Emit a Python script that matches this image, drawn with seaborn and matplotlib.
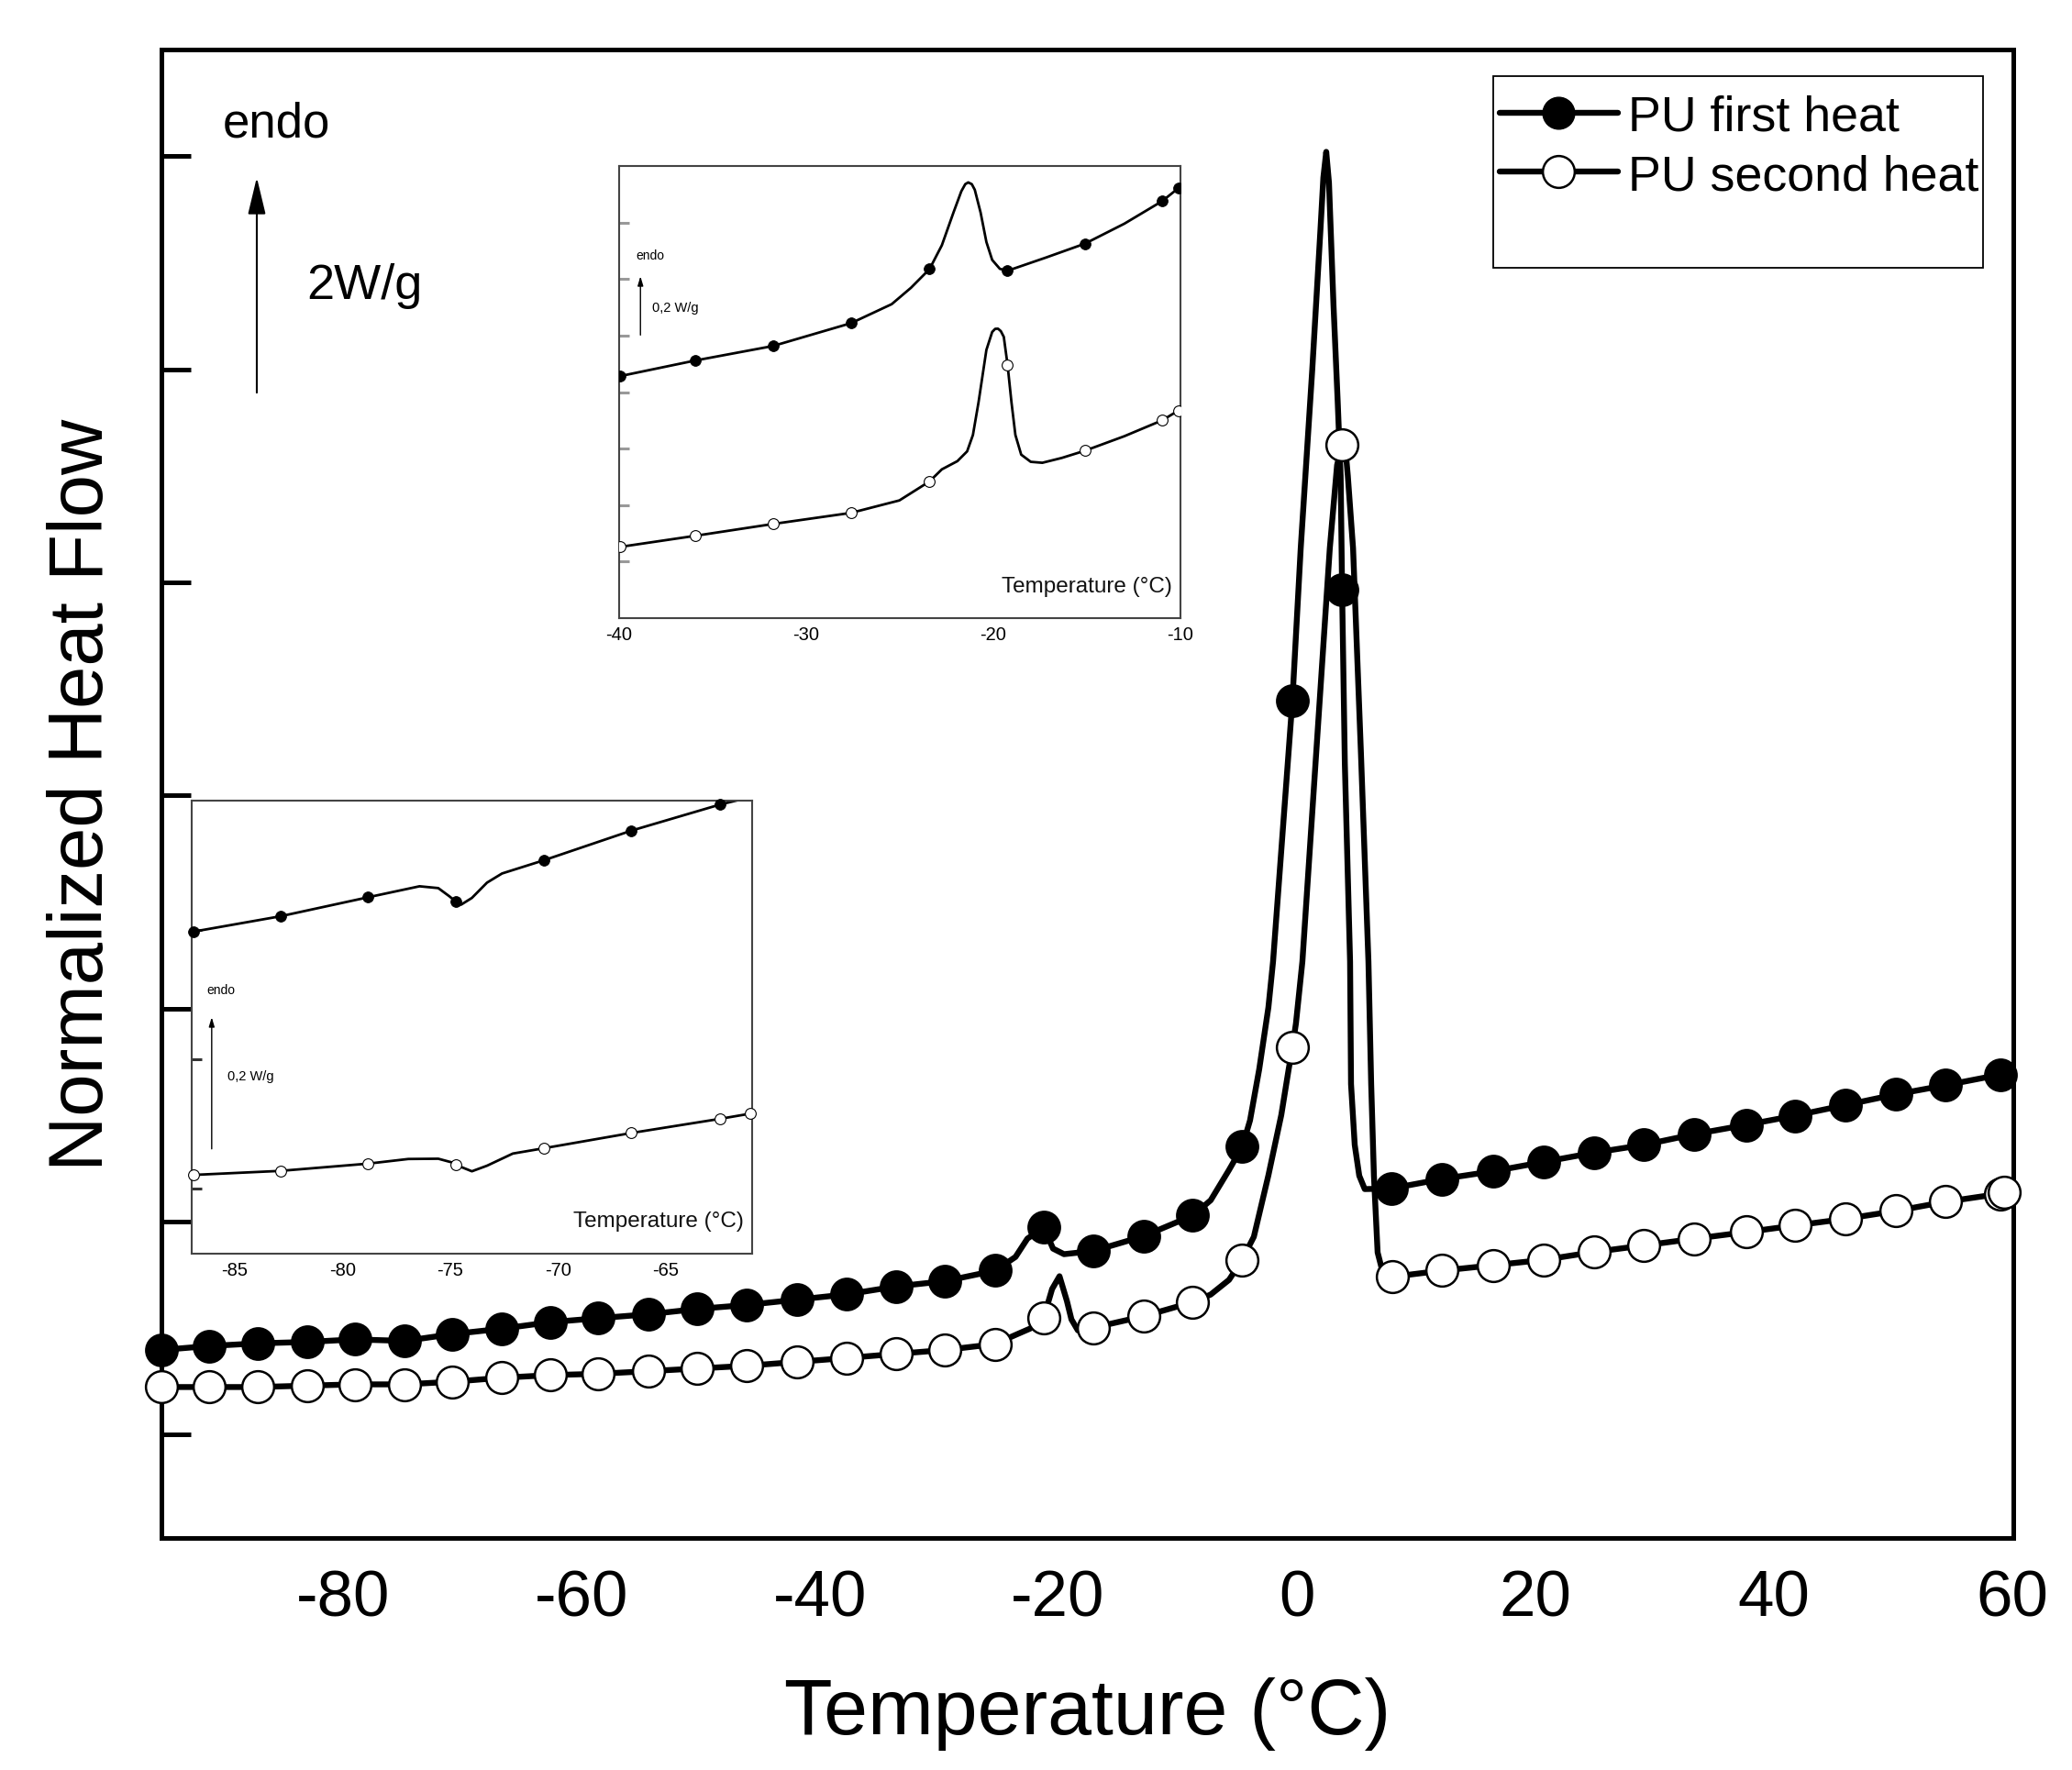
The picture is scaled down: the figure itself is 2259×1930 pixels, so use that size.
import numpy as np
import pandas as pd
import matplotlib
matplotlib.use("Agg")
import matplotlib.pyplot as plt
import seaborn as sns
from matplotlib.lines import Line2D
from matplotlib.patches import Rectangle, ArrowStyle

# ---------------- main chart data ----------------
first_line_x = [-95.2, -91.21, -87.11, -83.0, -79.0, -74.78, -70.78, -66.68, -62.57, -58.57,
                -54.35, -50.25, -46.14, -41.92, -37.70, -33.59, -29.48, -25.26, -23.57, -22.57,
                -21.2, -20.42, -19.5, -17.04, -12.85, -8.7, -7.2, -5.66, -4.55, -3.9,
                -3.13, -2.36, -1.97, -0.35, 0.35, 1.32, 2.0, 2.25, 2.49, 2.72,
                3.1, 3.45, 3.7, 3.82, 4.05, 4.49, 4.57, 4.88, 5.26, 5.72,
                7.94, 12.22, 16.48, 20.70, 24.92, 29.14, 33.36, 37.69, 41.80, 46.01,
                50.23, 54.45, 59.0, 60.1]
first_line_y = [0.795, 0.832, 0.857, 0.870, 0.894, 0.880, 0.944, 0.994, 1.056, 1.093,
                1.130, 1.180, 1.217, 1.267, 1.317, 1.391, 1.441, 1.540, 1.668, 1.84,
                1.945, 1.746, 1.694, 1.724, 1.862, 2.057, 2.2, 2.485, 2.703, 2.95,
                3.43, 4.01, 4.44, 6.886, 8.32, 10.0, 11.3, 11.8, 12.04, 11.75,
                10.6, 9.7, 9.0, 7.93, 6.3, 4.44, 3.29, 2.72, 2.43, 2.305,
                2.31, 2.40, 2.472, 2.559, 2.646, 2.720, 2.820, 2.907, 2.994, 3.093,
                3.193, 3.280, 3.379, 3.41]

second_line_x = [-95.2, -91.21, -87.11, -83.0, -79.0, -74.78, -70.78, -66.68, -62.57, -58.57,
                 -54.35, -50.25, -46.14, -41.92, -37.70, -33.59, -29.48, -25.3, -23.57, -22.34,
                 -21.2, -20.5, -19.88, -19.26, -18.88, -18.34, -17.04, -12.88, -8.7, -7.2,
                 -5.66, -4.6, -3.58, -2.36, -1.28, -0.66, -0.35, -0.05, 0.49, 1.65,
                 2.79, 3.4, 3.82, 4.0, 4.3, 4.74, 5.4, 6.03, 6.26, 6.49,
                 6.8, 7.19, 8.05, 12.22, 16.48, 20.70, 24.92, 29.14, 33.36, 37.69,
                 41.80, 46.01, 50.23, 54.45, 59.0, 60.1]
second_line_y = [0.447, 0.447, 0.447, 0.460, 0.472, 0.472, 0.497, 0.534, 0.559, 0.571,
                 0.596, 0.621, 0.646, 0.683, 0.720, 0.758, 0.795, 0.85, 0.936, 0.996,
                 1.10, 1.367, 1.487, 1.255, 1.082, 0.979, 1.004, 1.11, 1.244, 1.315,
                 1.453, 1.635, 1.857, 2.434, 3.0, 3.43, 3.632, 3.86, 4.44, 6.4,
                 8.32, 9.1, 9.292, 9.38, 9.0, 8.32, 6.4, 4.44, 3.29, 2.43,
                 1.71, 1.54, 1.482, 1.54, 1.590, 1.640, 1.714, 1.776, 1.839, 1.901,
                 1.963, 2.025, 2.099, 2.186, 2.261, 2.29]

first_mark_x = [-95.2, -91.21, -87.11, -83.0, -79.0, -74.78, -70.78, -66.68, -62.57, -58.57,
                -54.35, -50.25, -46.14, -41.92, -37.70, -33.59, -29.48, -25.26, -21.2, -17.04,
                -12.85, -8.7, -4.55, -0.35, 3.82, 7.94, 12.22, 16.48, 20.70, 24.92,
                29.14, 33.36, 37.69, 41.80, 46.01, 50.23, 54.45, 59.0]
first_mark_y = [0.795, 0.832, 0.857, 0.870, 0.894, 0.880, 0.944, 0.994, 1.056, 1.093,
                1.130, 1.180, 1.217, 1.267, 1.317, 1.391, 1.441, 1.540, 1.945, 1.724,
                1.862, 2.057, 2.703, 6.886, 7.93, 2.31, 2.40, 2.472, 2.559, 2.646,
                2.720, 2.820, 2.907, 2.994, 3.093, 3.193, 3.280, 3.379]

second_mark_x = [-95.2, -91.21, -87.11, -83.0, -79.0, -74.78, -70.78, -66.68, -62.57, -58.57,
                 -54.35, -50.25, -46.14, -41.92, -37.70, -33.59, -29.48, -25.26, -21.2, -17.04,
                 -12.85, -8.7, -4.55, -0.35, 3.82, 8.05, 12.22, 16.48, 20.70, 24.92,
                 29.14, 33.36, 37.69, 41.80, 46.01, 50.23, 54.45, 59.0, 59.34]
second_mark_y = [0.447, 0.447, 0.447, 0.460, 0.472, 0.472, 0.497, 0.534, 0.559, 0.571,
                 0.596, 0.621, 0.646, 0.683, 0.720, 0.758, 0.795, 0.85, 1.10, 1.004,
                 1.11, 1.244, 1.635, 3.632, 9.292, 1.482, 1.54, 1.590, 1.640, 1.714,
                 1.776, 1.839, 1.901, 1.963, 2.025, 2.099, 2.186, 2.261, 2.273]

main_xticks = [-80, -60, -40, -20, 0, 20, 40, 60]
main_yticks = [0, 2, 4, 6, 8, 10, 12]
legend_labels = ["PU first heat", "PU second heat"]

# ---------------- inset 1 (-40 .. -10) ----------------
in1_first_x = [-39.94, -35.91, -31.78, -27.60, -25.43, -24.40, -23.41, -22.75, -22.13, -21.71,
               -21.5, -21.34, -21.15, -20.99, -20.68, -20.37, -20.06, -19.65, -19.24, -17.2,
               -15.10, -13.0, -10.97, -10.10]
in1_first_y = [4.284, 4.561, 4.816, 5.221, 5.557, 5.847, 6.177, 6.599, 7.178, 7.554,
               7.68, 7.711, 7.68, 7.58, 7.178, 6.657, 6.339, 6.182, 6.148, 6.38,
               6.628, 6.98, 7.381, 7.612]
in1_first_mx = [-39.94, -35.91, -31.78, -27.60, -23.41, -19.24, -15.10, -10.97, -10.10]
in1_first_my = [4.284, 4.561, 4.816, 5.221, 6.177, 6.148, 6.628, 7.381, 7.612]

in1_second_x = [-39.94, -35.91, -31.78, -27.60, -25.02, -23.41, -22.75, -21.92, -21.40, -21.09,
                -20.79, -20.37, -20.06, -19.9, -19.75, -19.6, -19.44, -19.24, -19.03, -18.82,
                -18.51, -18.00, -17.38, -16.34, -15.10, -13.0, -10.97, -10.10]
in1_second_y = [1.262, 1.459, 1.667, 1.864, 2.084, 2.42, 2.634, 2.779, 2.952, 3.242,
                3.821, 4.747, 5.065, 5.12, 5.123, 5.08, 4.978, 4.486, 3.821, 3.242,
                2.894, 2.767, 2.75, 2.836, 2.964, 3.22, 3.502, 3.676]
in1_second_mx = [-39.94, -35.91, -31.78, -27.60, -23.41, -19.24, -15.10, -10.97, -10.10]
in1_second_my = [1.262, 1.459, 1.667, 1.864, 2.42, 4.486, 2.964, 3.502, 3.676]
in1_xticks = [-40, -30, -20, -10]
in1_yticks = [1, 2, 3, 4, 5, 6, 7]

# ---------------- inset 2 (-87 .. -61) ----------------
in2_first_x = [-86.9, -82.89, -78.82, -76.43, -75.56, -75.04, -74.75, -74.5, -74.0, -73.3,
               -72.6, -70.66, -66.6, -62.5, -61.0]
in2_first_y = [2.488, 2.606, 2.753, 2.838, 2.824, 2.76, 2.72, 2.696, 2.748, 2.866,
               2.937, 3.039, 3.268, 3.469, 3.53]
in2_first_mx = [-86.9, -82.89, -78.82, -74.75, -70.66, -66.6, -62.5]
in2_first_my = [2.488, 2.606, 2.753, 2.72, 3.039, 3.268, 3.469]

in2_second_x = [-86.9, -82.89, -78.82, -76.95, -75.56, -74.87, -74.75, -74.0, -73.3, -72.1,
                -70.66, -66.6, -62.5, -61.1]
in2_second_y = [0.608, 0.639, 0.695, 0.731, 0.733, 0.702, 0.686, 0.636, 0.679, 0.773,
                0.814, 0.932, 1.041, 1.081]
in2_second_mx = [-86.9, -82.89, -78.82, -74.75, -70.66, -66.6, -62.5, -61.1]
in2_second_my = [0.608, 0.639, 0.695, 0.686, 0.814, 0.932, 1.041, 1.081]
in2_xticks = [-85, -80, -75, -70, -65]
in2_yticks = [0.5, 1.5, 2.5]

# ---------------- style ----------------
sns.set_theme(style="white")
plt.rcParams['font.family'] = ['Liberation Sans', 'DejaVu Sans']
plt.rcParams['axes.unicode_minus'] = False
plt.rcParams['text.color'] = 'black'
plt.rcParams['axes.labelcolor'] = 'black'
plt.rcParams['xtick.color'] = 'black'
plt.rcParams['ytick.color'] = 'black'
plt.rcParams['xtick.labelcolor'] = 'black'
plt.rcParams['ytick.labelcolor'] = 'black'

fig = plt.figure(figsize=(22.59, 19.31), dpi=100)
ax = fig.add_axes([0.0779, 0.1310, 0.8937, 0.8405])

LW = 4.6
MS = 25

sns.lineplot(x=first_line_x, y=first_line_y, ax=ax, sort=False, estimator=None,
             color='black', linewidth=LW, zorder=2)
sns.lineplot(x=second_line_x, y=second_line_y, ax=ax, sort=False, estimator=None,
             color='black', linewidth=LW, zorder=2)
sns.scatterplot(x=first_mark_x, y=first_mark_y, ax=ax, s=MS ** 2, color='black',
                edgecolor='black', linewidth=1.5, zorder=4, clip_on=False)
sns.scatterplot(x=second_mark_x, y=second_mark_y, ax=ax, s=MS ** 2, color='white',
                edgecolor='black', linewidth=1.8, zorder=4, clip_on=False)

ax.set_xlim(-95.2, 60.1)
ax.set_ylim(-0.97, 13.0)
ax.set_xticks(main_xticks)
ax.set_yticks(main_yticks)
ax.set_yticklabels([])
ax.tick_params(axis='both', direction='in', length=23, width=3.6, color='black')
ax.tick_params(axis='x', labelsize=51, pad=24, labelcolor='black')
ax.tick_params(axis='y', left=True)
for sp in ax.spines.values():
    sp.set_linewidth(3.6)
    sp.set_color('black')
    sp.set_zorder(3)

ax.set_xlabel("Temperature (°C)", fontsize=62, color='black')
ax.xaxis.set_label_coords(0.5, -0.093)
ax.set_ylabel("Normalized Heat Flow", fontsize=60, labelpad=30, color='black')

# annotation: endo arrow
ax.text(-90.1, 12.19, "endo", fontsize=38, ha='left', va='baseline', color='black')
ax.text(-83.0, 10.67, "2W/g", fontsize=39, ha='left', va='baseline', color='black')
ax.annotate('', xy=(-87.2, 11.80), xytext=(-87.2, 9.78),
            arrowprops=dict(arrowstyle=ArrowStyle('-|>', head_length=0.5, head_width=0.12),
                            mutation_scale=50, lw=1.5, color='black', shrinkA=0, shrinkB=0))

# legend
handles = [
    Line2D([], [], color='black', lw=LW, marker='o', markersize=MS,
           markerfacecolor='black', markeredgecolor='black'),
    Line2D([], [], color='black', lw=LW, marker='o', markersize=MS,
           markerfacecolor='white', markeredgecolor='black', markeredgewidth=1.8),
]
leg = ax.legend(handles=handles, labels=legend_labels, loc='upper left',
                bbox_to_anchor=(0.7226, 0.970), frameon=False, borderpad=0, borderaxespad=0,
                handlelength=2.4, handletextpad=0.2, labelspacing=0.27, fontsize=38.7)
for t in leg.get_texts():
    t.set_color('black')
ax.add_patch(Rectangle((0.7192, 0.8534), 0.2645, 0.1287, transform=ax.transAxes,
                       fill=False, lw=1.3, ec='black', zorder=5))


def style_inset(a, xt, yt, ycol):
    for sp in a.spines.values():
        sp.set_linewidth(1.5)
        sp.set_color('#444444')
    a.set_xticks(xt)
    a.set_yticks(yt)
    a.set_yticklabels([])
    a.tick_params(axis='x', direction='in', length=7, width=1.2, labelsize=14.5,
                  pad=6, color='#333333', labelcolor='black')
    a.tick_params(axis='y', direction='in', length=8, width=2.2, color=ycol, left=True)
    a.set_xlabel('')
    a.set_ylabel('')
    a.text(0.985, 0.072, 'Temperature (°C)', transform=a.transAxes, ha='right',
           va='center', fontsize=17.5, color='#111111')


ILW = 2.0
IMS = 8.5

# inset 1
ax1 = fig.add_axes([0.2988, 0.6504, 0.2709, 0.2553])
ax1.set_facecolor('white')
sns.lineplot(x=in1_first_x, y=in1_first_y, ax=ax1, sort=False, estimator=None,
             color='black', linewidth=ILW)
sns.lineplot(x=in1_second_x, y=in1_second_y, ax=ax1, sort=False, estimator=None,
             color='black', linewidth=ILW)
sns.scatterplot(x=in1_first_mx, y=in1_first_my, ax=ax1, s=IMS ** 2, color='black',
                edgecolor='black', linewidth=0.6, zorder=4)
sns.scatterplot(x=in1_second_mx, y=in1_second_my, ax=ax1, s=IMS ** 2, color='white',
                edgecolor='black', linewidth=0.8, zorder=4)
ax1.set_xlim(-40, -10)
ax1.set_ylim(0, 8)
style_inset(ax1, in1_xticks, in1_yticks, '#999999')
ax1.text(-39.1, 6.43, "endo", fontsize=10, ha='left', va='center')
ax1.text(-38.24, 5.5, "0,2 W/g", fontsize=10.5, ha='left', va='center')
ax1.annotate('', xy=(-38.86, 6.05), xytext=(-38.86, 5.01),
             arrowprops=dict(arrowstyle=ArrowStyle('-|>', head_length=0.5, head_width=0.15),
                             mutation_scale=12, lw=1.0, color='black', shrinkA=0, shrinkB=0))

# inset 2
ax2 = fig.add_axes([0.0925, 0.2916, 0.2705, 0.2558])
ax2.set_facecolor('white')
sns.lineplot(x=in2_first_x, y=in2_first_y, ax=ax2, sort=False, estimator=None,
             color='black', linewidth=ILW)
sns.lineplot(x=in2_second_x, y=in2_second_y, ax=ax2, sort=False, estimator=None,
             color='black', linewidth=ILW)
sns.scatterplot(x=in2_first_mx, y=in2_first_my, ax=ax2, s=IMS ** 2, color='black',
                edgecolor='black', linewidth=0.6, zorder=4, clip_on=False)
sns.scatterplot(x=in2_second_mx, y=in2_second_my, ax=ax2, s=IMS ** 2, color='white',
                edgecolor='black', linewidth=0.8, zorder=4, clip_on=False)
ax2.set_xlim(-87, -61)
ax2.set_ylim(0, 3.5)
style_inset(ax2, in2_xticks, in2_yticks, '#333333')
ax2.text(-86.3, 2.04, "endo", fontsize=10, ha='left', va='center')
ax2.text(-85.35, 1.376, "0,2 W/g", fontsize=10.5, ha='left', va='center')
ax2.annotate('', xy=(-86.07, 1.826), xytext=(-86.07, 0.809),
             arrowprops=dict(arrowstyle=ArrowStyle('-|>', head_length=0.5, head_width=0.15),
                             mutation_scale=12, lw=1.0, color='black', shrinkA=0, shrinkB=0))

fig.savefig("out.png", dpi=100)
